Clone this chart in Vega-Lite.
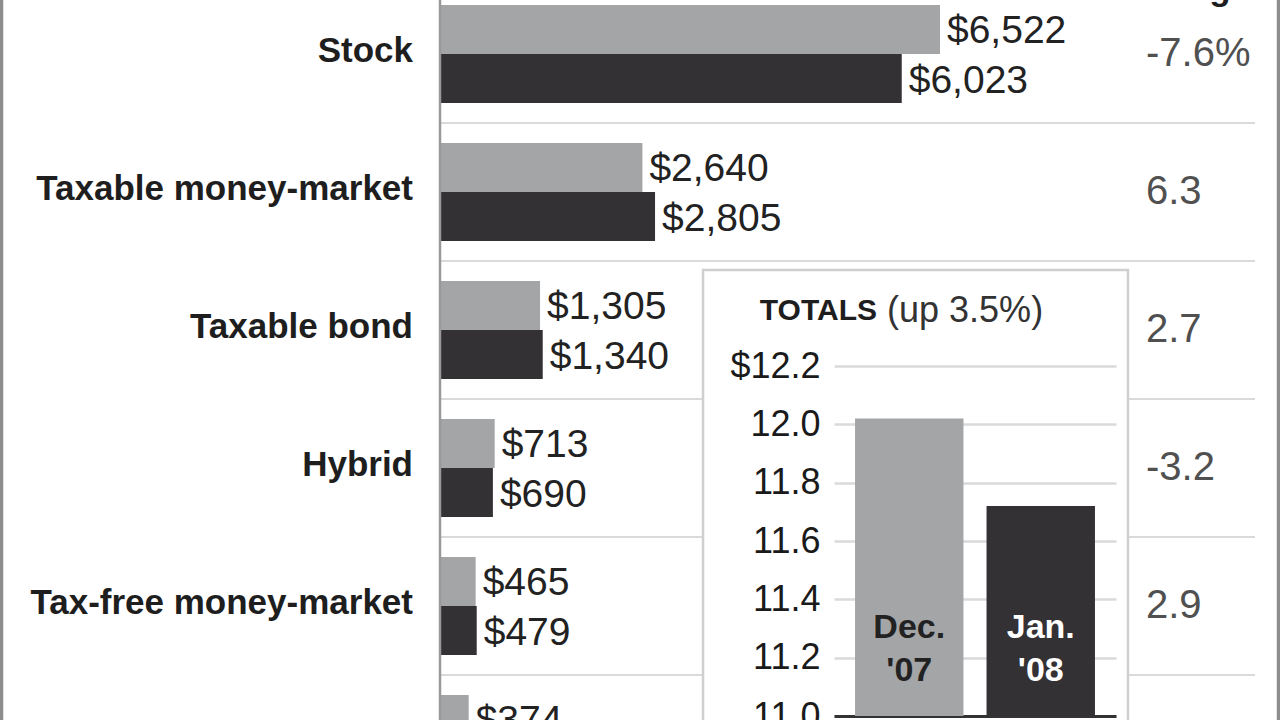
{
  "$schema": "https://vega.github.io/schema/vega-lite/v6.json",
  "width": 1280,
  "height": 720,
  "autosize": {"type": "none"},
  "padding": 0,
  "background": "white",
  "config": {"view": {"stroke": null}, "font": "Liberation Sans"},
  "datasets": {
    "funds": [
      {"category": "Stock", "period": "Dec. '07", "value": 6522},
      {"category": "Stock", "period": "Jan. '08", "value": 6023},
      {"category": "Taxable money-market", "period": "Dec. '07", "value": 2640},
      {"category": "Taxable money-market", "period": "Jan. '08", "value": 2805},
      {"category": "Taxable bond", "period": "Dec. '07", "value": 1305},
      {"category": "Taxable bond", "period": "Jan. '08", "value": 1340},
      {"category": "Hybrid", "period": "Dec. '07", "value": 713},
      {"category": "Hybrid", "period": "Jan. '08", "value": 690},
      {"category": "Tax-free money-market", "period": "Dec. '07", "value": 465},
      {"category": "Tax-free money-market", "period": "Jan. '08", "value": 479},
      {"category": "Tax-free bond", "period": "Dec. '07", "value": 374},
      {"category": "Tax-free bond", "period": "Jan. '08", "value": 380}
    ],
    "change": [
      {"category": "Stock", "change": "-7.6%"},
      {"category": "Taxable money-market", "change": "6.3"},
      {"category": "Taxable bond", "change": "2.7"},
      {"category": "Hybrid", "change": "-3.2"},
      {"category": "Tax-free money-market", "change": "2.9"},
      {"category": "Tax-free bond", "change": "1.6"}
    ],
    "totals": [
      {"period": "Dec. '07", "total": 12.02},
      {"period": "Jan. '08", "total": 11.72}
    ]
  },
  "layer": [
    {
      "layer": [
        {
          "data": {"name": "change"},
          "transform": [{"filter": {"field": "category", "oneOf": ["Stock", "Taxable money-market"]}}],
          "mark": {"type": "rule", "color": "#dadada", "strokeWidth": 2},
          "encoding": {
            "y": {"field": "category", "type": "nominal", "bandPosition": 1,
              "scale": {"domain": ["Stock", "Taxable money-market", "Taxable bond", "Hybrid", "Tax-free money-market", "Tax-free bond"], "range": [-15, 813], "paddingInner": 0, "paddingOuter": 0},
              "axis": null},
            "x": {"datum": 0, "type": "quantitative",
              "scale": {"domain": [0, 10631], "range": [440, 1255], "nice": false, "zero": false},
              "axis": null},
            "x2": {"datum": 10631}
          }
        },
        {
          "data": {"name": "change"},
          "transform": [{"filter": {"field": "category", "oneOf": ["Taxable bond", "Hybrid", "Tax-free money-market"]}}],
          "mark": {"type": "rule", "color": "#dadada", "strokeWidth": 2},
          "encoding": {
            "y": {"field": "category", "type": "nominal", "bandPosition": 1},
            "x": {"datum": 0, "type": "quantitative"},
            "x2": {"datum": 3431}
          }
        },
        {
          "data": {"name": "change"},
          "transform": [{"filter": {"field": "category", "oneOf": ["Taxable bond", "Hybrid", "Tax-free money-market"]}}],
          "mark": {"type": "rule", "color": "#dadada", "strokeWidth": 2},
          "encoding": {
            "y": {"field": "category", "type": "nominal", "bandPosition": 1},
            "x": {"datum": 8974, "type": "quantitative"},
            "x2": {"datum": 10631}
          }
        },
        {
          "data": {"name": "funds"},
          "mark": {"type": "bar"},
          "encoding": {
            "y": {"field": "category", "type": "nominal"},
            "yOffset": {"field": "period", "type": "nominal", "scale": {"paddingInner": 0, "paddingOuter": 0.408}},
            "x": {"field": "value", "type": "quantitative"},
            "color": {"field": "period", "type": "nominal", "scale": {"domain": ["Dec. '07", "Jan. '08"], "range": ["#a4a5a7", "#333134"]}, "legend": null}
          }
        },
        {
          "data": {"name": "funds"},
          "mark": {"type": "text", "align": "left", "baseline": "middle", "dx": 7, "dy": 2, "fontSize": 39, "color": "#222222"},
          "encoding": {
            "y": {"field": "category", "type": "nominal"},
            "yOffset": {"field": "period", "type": "nominal"},
            "x": {"field": "value", "type": "quantitative"},
            "text": {"field": "value", "type": "quantitative", "format": "$,.0f"}
          }
        },
        {
          "data": {"name": "change"},
          "mark": {"type": "text", "align": "right", "baseline": "middle", "dx": -27, "dy": -3, "fontSize": 35, "fontWeight": "bold", "color": "#1e1e1e"},
          "encoding": {
            "y": {"field": "category", "type": "nominal"},
            "x": {"datum": 0, "type": "quantitative"},
            "text": {"field": "category"}
          }
        },
        {
          "data": {"name": "change"},
          "mark": {"type": "text", "align": "left", "baseline": "middle", "fontSize": 40, "color": "#505050"},
          "encoding": {
            "y": {"field": "category", "type": "nominal"},
            "x": {"datum": 9209, "type": "quantitative"},
            "text": {"field": "change"}
          }
        },
        {
          "data": {"values": [{"header": "Change"}]},
          "mark": {"type": "text", "align": "right", "baseline": "alphabetic", "dy": -54, "dx": -5, "fontSize": 35, "fontWeight": "bold", "color": "#1e1e1e"},
          "encoding": {
            "y": {"datum": "Stock", "type": "nominal"},
            "x": {"datum": 10631, "type": "quantitative"},
            "text": {"field": "header"}
          }
        },
        {
          "data": {"values": [{}]},
          "mark": {"type": "rule", "color": "#999999", "strokeWidth": 2.5},
          "encoding": {"x": {"datum": 0, "type": "quantitative"}}
        },
        {
          "data": {"values": [{}]},
          "mark": {"type": "rule", "color": "#8d8d8d", "strokeWidth": 3.5},
          "encoding": {"x": {"datum": -5720, "type": "quantitative"}}
        },
        {
          "data": {"values": [{}]},
          "mark": {"type": "rule", "color": "#8d8d8d", "strokeWidth": 3.5},
          "encoding": {"x": {"datum": 10938, "type": "quantitative"}}
        },
        {
          "data": {"values": [{}]},
          "mark": {"type": "rect", "filled": false, "stroke": "#cfcfcf", "strokeWidth": 2.5},
          "encoding": {
            "x": {"datum": 3431, "type": "quantitative"},
            "x2": {"datum": 8974},
            "y": {"datum": "Taxable bond", "type": "nominal", "bandPosition": 0.065},
            "y2": {"datum": "Tax-free bond", "bandPosition": 1}
          }
        }
      ]
    },
    {
      "layer": [
        {
          "data": {"name": "totals"},
          "mark": {"type": "bar"},
          "encoding": {
            "x": {"field": "period", "type": "nominal",
              "scale": {"domain": ["Dec. '07", "Jan. '08"], "range": [834, 1116], "paddingInner": 0.1756, "paddingOuter": 0.16},
              "axis": {"orient": "bottom", "offset": -4, "labels": false, "ticks": false, "title": null, "grid": false, "domain": true, "domainColor": "#333333", "domainWidth": 3}},
            "y": {"field": "total", "type": "quantitative",
              "scale": {"domain": [11, 12.2], "range": [716, 366], "nice": false, "zero": false},
              "axis": {"orient": "left", "offset": -826, "values": [11, 11.2, 11.4, 11.6, 11.8, 12, 12.2],
                "labelExpr": "datum.value > 12.1 ? '$12.2' : format(datum.value, '.1f')",
                "domain": false, "ticks": false, "title": null, "grid": true, "gridColor": "#dadada", "gridWidth": 2.5,
                "labelFontSize": 36, "labelColor": "#1a1a1a", "labelPadding": 6, "labelFont": "Liberation Sans"}},
            "y2": {"datum": 11},
            "color": {"field": "period", "type": "nominal", "legend": null}
          }
        },
        {
          "data": {"name": "totals"},
          "mark": {"type": "text", "lineBreak": " ", "lineHeight": 43, "baseline": "top", "align": "center", "dy": -105, "fontSize": 34, "fontWeight": "bold"},
          "encoding": {
            "x": {"field": "period", "type": "nominal"},
            "y": {"datum": 11, "type": "quantitative"},
            "text": {"field": "period"},
            "color": {"condition": {"test": "datum.period != \"Dec. '07\"", "value": "#ffffff"}, "value": "#222222"}
          }
        },
        {
          "data": {"values": [{"title": "TOTALS"}]},
          "mark": {"type": "text", "align": "right", "baseline": "middle", "dx": 22, "fontSize": 30, "fontWeight": "bold", "color": "#1e1e1e"},
          "encoding": {
            "x": {"datum": "Dec. '07", "type": "nominal", "bandPosition": 0},
            "y": {"datum": 12.39, "type": "quantitative"},
            "text": {"field": "title"}
          }
        },
        {
          "data": {"values": [{"sub": "(up 3.5%)"}]},
          "mark": {"type": "text", "align": "left", "baseline": "middle", "dx": 32, "fontSize": 36, "color": "#333333"},
          "encoding": {
            "x": {"datum": "Dec. '07", "type": "nominal", "bandPosition": 0},
            "y": {"datum": 12.39, "type": "quantitative"},
            "text": {"field": "sub"}
          }
        }
      ]
    }
  ],
  "resolve": {"scale": {"x": "independent", "y": "independent"}}
}
